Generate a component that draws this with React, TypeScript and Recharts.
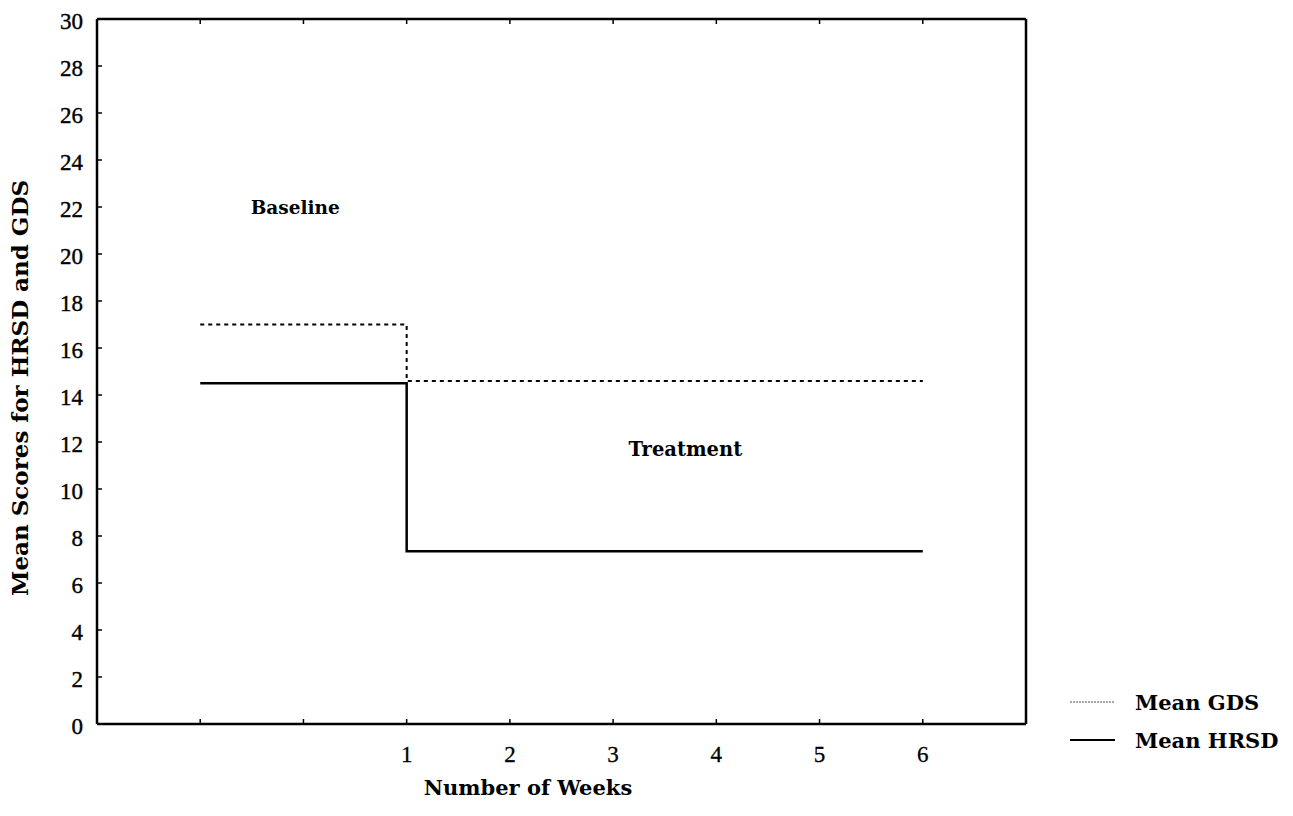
import React from 'react';
import {
  LineChart, Line, XAxis, YAxis, ReferenceDot, Label,
} from 'recharts';

// step points: baseline starts at week -1, treatment starts at week 1
const WEEKS = [-1, 1, 6];
const GDS = [17, 14.6, 14.6];
const HRSD = [14.5, 7.35, 7.35];

const X_TICKS = [-1, 0, 1, 2, 3, 4, 5, 6];
const Y_TICKS = [0, 2, 4, 6, 8, 10, 12, 14, 16, 18, 20, 22, 24, 26, 28, 30];

const SERIES = [
  { key: 'gds', name: 'Mean GDS', dash: '4 4', width: 2 },
  { key: 'hrsd', name: 'Mean HRSD', dash: undefined, width: 2.5 },
];

const data = WEEKS.map((w, i) => ({ week: w, gds: GDS[i], hrsd: HRSD[i] }));

const TICK_FONT = 'Liberation Serif, Times New Roman, serif';
const LABEL_FONT = 'DejaVu Serif, serif';
const TICK_LEN = 5;

const BottomTick = (props: any) => {
  const { x, y, payload } = props;
  const v = payload.value;
  return (
    <g>
      <line x1={x} y1={y} x2={x} y2={y - TICK_LEN} stroke="#000" strokeWidth={1.5} />
      {v >= 1 && (
        <text x={x} y={y + 38} textAnchor="middle" style={{ fontFamily: TICK_FONT }} fontSize={23}
          fill="#000" stroke="#000" strokeWidth={0.3}>
          {v}
        </text>
      )}
    </g>
  );
};

const TopTick = (props: any) => {
  const { x, y } = props;
  return <line x1={x} y1={y} x2={x} y2={y + TICK_LEN} stroke="#000" strokeWidth={1.5} />;
};

const LeftTick = (props: any) => {
  const { x, y, payload } = props;
  return (
    <g>
      <line x1={x} y1={y} x2={x + TICK_LEN} y2={y} stroke="#000" strokeWidth={1.5} />
      <text x={x - 14} y={y + 2} textAnchor="end" dominantBaseline="central"
        style={{ fontFamily: TICK_FONT }} fontSize={23} fill="#000" stroke="#000" strokeWidth={0.4}>
        {payload.value}
      </text>
    </g>
  );
};

const RightTick = (props: any) => {
  const { x, y } = props;
  return <line x1={x} y1={y} x2={x - TICK_LEN} y2={y} stroke="#000" strokeWidth={1.5} />;
};

// legend drawn as the label of the right axis
const LegendLabel = () => (
  <g transform="translate(1065, 690)">
    {SERIES.map((s, i) => (
      <g key={s.key}>
        <line x1={5} x2={50} y1={12 + i * 38} y2={12 + i * 38} stroke="#000"
          strokeWidth={s.key === 'gds' ? 1.2 : 2} strokeDasharray={s.key === 'gds' ? '2 1' : undefined}
          strokeOpacity={s.key === 'gds' ? 0.7 : 1} />
        <text x={70} y={20 + i * 38} style={{ fontFamily: LABEL_FONT }} fontWeight="bold" fontSize={21} fill="#000">
          {s.name}
        </text>
      </g>
    ))}
  </g>
);

const axisLine = { stroke: '#000', strokeWidth: 2.5 };

export default function App() {
  return (
    <div style={{ position: 'absolute', left: 0, top: 0, background: '#fff' }}>
      <LineChart
        width={1293}
        height={816}
        data={data}
        margin={{ top: 18, right: 266, bottom: 91, left: 96 }}
      >
        <XAxis
          xAxisId="bottom"
          dataKey="week"
          type="number"
          domain={[-2, 7]}
          ticks={X_TICKS}
          interval={0}
          height={1}
          tickSize={0}
          tickMargin={0}
          tickLine={false}
          axisLine={axisLine}
          tick={<BottomTick />}
        >
          <Label
            content={() => (
              <text x={528} y={795} textAnchor="middle" style={{ fontFamily: LABEL_FONT }}
                fontWeight="bold" fontSize={21} fill="#000">
                Number of Weeks
              </text>
            )}
          />
        </XAxis>
        <XAxis
          xAxisId="top"
          orientation="top"
          dataKey="week"
          type="number"
          domain={[-2, 7]}
          ticks={X_TICKS}
          interval={0}
          height={1}
          tickSize={0}
          tickMargin={0}
          tickLine={false}
          axisLine={axisLine}
          tick={<TopTick />}
        />
        <YAxis
          yAxisId="left"
          type="number"
          domain={[0, 30]}
          ticks={Y_TICKS}
          interval={0}
          width={1}
          tickSize={0}
          tickMargin={0}
          tickLine={false}
          axisLine={axisLine}
          tick={<LeftTick />}
        >
          <Label
            content={() => (
              <text x={19} y={388} transform="rotate(-90 19 388)" textAnchor="middle"
                dominantBaseline="central" style={{ fontFamily: LABEL_FONT }}
                fontWeight="bold" fontSize={23} fill="#000">
                Mean Scores for HRSD and GDS
              </text>
            )}
          />
        </YAxis>
        <YAxis
          yAxisId="right"
          orientation="right"
          type="number"
          domain={[0, 30]}
          ticks={Y_TICKS}
          interval={0}
          width={1}
          tickSize={0}
          tickMargin={0}
          tickLine={false}
          axisLine={axisLine}
          tick={<RightTick />}
        >
          <Label content={() => <LegendLabel />} />
        </YAxis>
        {SERIES.map((s) => (
          <Line
            key={s.key}
            xAxisId="bottom"
            yAxisId="left"
            type="stepAfter"
            dataKey={s.key}
            name={s.name}
            stroke="#000"
            strokeWidth={s.width}
            strokeDasharray={s.dash}
            dot={false}
            activeDot={false}
            isAnimationActive={false}
          />
        ))}
        <ReferenceDot
          xAxisId="bottom" yAxisId="left" x={-0.08} y={22} r={0}
          label={{ value: 'Baseline', position: 'center', fontFamily: LABEL_FONT, fontWeight: 'bold', fontSize: 18.5, fill: '#000' }}
        />
        <ReferenceDot
          xAxisId="bottom" yAxisId="left" x={3.7} y={11.7} r={0}
          label={{ value: 'Treatment', position: 'center', fontFamily: LABEL_FONT, fontWeight: 'bold', fontSize: 19.5, fill: '#000' }}
        />
      </LineChart>
    </div>
  );
}
